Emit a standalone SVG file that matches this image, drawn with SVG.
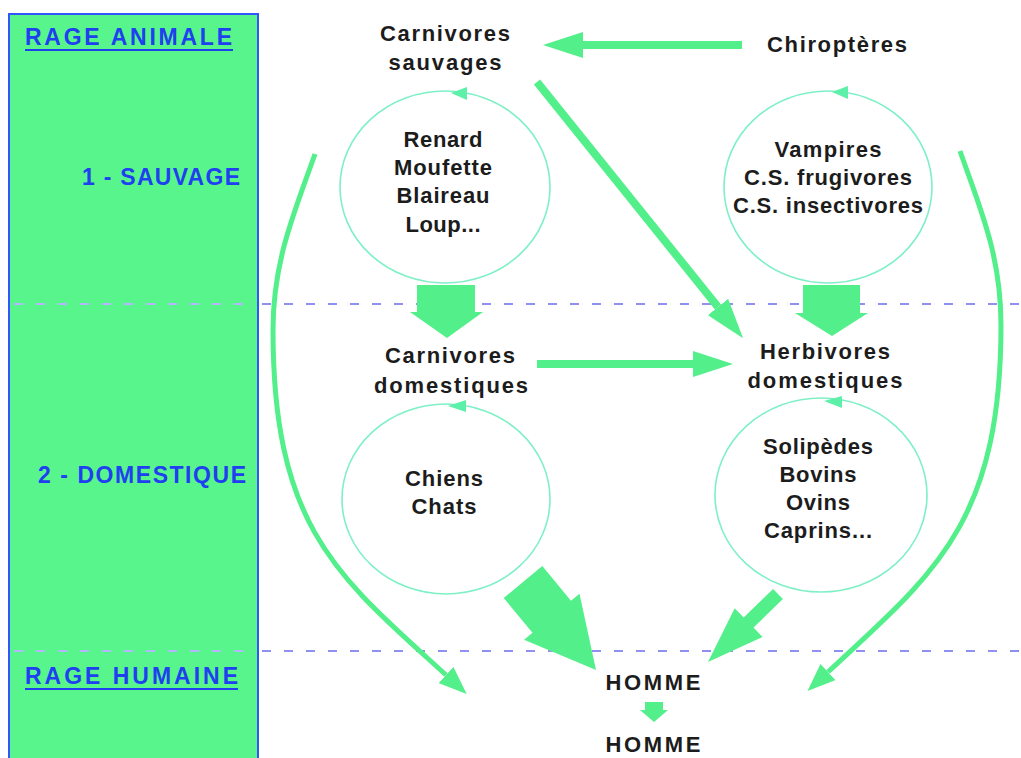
<svg xmlns="http://www.w3.org/2000/svg" width="1021" height="758" viewBox="0 0 1021 758">
  <defs>
    <style>
      .lbl { font-family: "Liberation Sans", Arial, sans-serif; font-weight: bold; font-size: 22px; fill: #1c1c1c; text-anchor: middle; }
      .band { font-family: "Liberation Sans", Arial, sans-serif; font-weight: bold; font-size: 23px; fill: #1f3ff0; }
      .cycle { fill: none; stroke: #7ff0c6; stroke-width: 1.6; }
      .cyc-head { fill: #5cf0a8; }
      .flow { fill: none; stroke: #52ef8a; stroke-width: 8; }
      .curve { fill: none; stroke: #52ef8a; stroke-width: 5; }
      .block { fill: #52ef8a; }
      .dash-in { stroke: #b4b6ff; stroke-width: 2; stroke-dasharray: 9 13; }
      .dash-out { stroke: #6c6cee; stroke-width: 1.6; stroke-dasharray: 9 13; }
    </style>
    <marker id="head-lg" markerUnits="userSpaceOnUse" viewBox="0 0 40 26" markerWidth="40" markerHeight="26" refX="0" refY="13" orient="auto">
      <path d="M0,0 L40,13 L0,26 z" fill="#52ef8a"/>
    </marker>
    <marker id="head-sm" markerUnits="userSpaceOnUse" viewBox="0 0 28 22" markerWidth="28" markerHeight="22" refX="0" refY="11" orient="auto">
      <path d="M0,0 L28,11 L0,22 z" fill="#52ef8a"/>
    </marker>
  </defs>

  <rect width="1021" height="758" fill="#ffffff"/>

  <!-- side panel with the level names -->
  <g id="panel">
    <rect x="9" y="14" width="249" height="760" fill="#57f58c" stroke="#3355ff" stroke-width="2"/>
    <text class="band" x="25" y="45" textLength="207" lengthAdjust="spacing">RAGE ANIMALE</text>
    <line x1="25" y1="50" x2="233" y2="50" stroke="#1f3ff0" stroke-width="2"/>
    <text class="band" x="82" y="185" textLength="158" lengthAdjust="spacing">1 - SAUVAGE</text>
    <text class="band" x="38" y="483" textLength="208" lengthAdjust="spacing">2 - DOMESTIQUE</text>
    <text class="band" x="25" y="684" textLength="213" lengthAdjust="spacing">RAGE HUMAINE</text>
    <line x1="25" y1="689" x2="238" y2="689" stroke="#1f3ff0" stroke-width="2"/>
  </g>

  <!-- level separators -->
  <g id="separators">
    <line class="dash-in" x1="14" y1="304" x2="256" y2="304"/>
    <line class="dash-out" x1="262" y1="304" x2="1021" y2="304"/>
    <line class="dash-in" x1="14" y1="651" x2="256" y2="651"/>
    <line class="dash-out" x1="262" y1="651" x2="1021" y2="651"/>
  </g>

  <g id="carnivores-sauvages">
    <ellipse class="cycle" cx="445" cy="187" rx="105" ry="96"/>
    <polygon class="cyc-head" points="451,93 467,87 467,100"/>
    <text class="lbl" x="445" y="41" textLength="130" lengthAdjust="spacing">Carnivores</text>
    <text class="lbl" x="445" y="70" textLength="113" lengthAdjust="spacing">sauvages</text>
    <text class="lbl" x="443" y="147" textLength="79" lengthAdjust="spacing">Renard</text>
    <text class="lbl" x="443" y="175" textLength="98" lengthAdjust="spacing">Moufette</text>
    <text class="lbl" x="443" y="203" textLength="93" lengthAdjust="spacing">Blaireau</text>
    <text class="lbl" x="443" y="232" textLength="75" lengthAdjust="spacing">Loup...</text>
  </g>

  <g id="chiropteres">
    <ellipse class="cycle" cx="828" cy="187" rx="104" ry="96"/>
    <polygon class="cyc-head" points="832,92 848,86 848,99"/>
    <text class="lbl" x="837" y="52" textLength="140" lengthAdjust="spacing">Chiroptères</text>
    <text class="lbl" x="828" y="157" textLength="107" lengthAdjust="spacing">Vampires</text>
    <text class="lbl" x="828" y="185" textLength="168" lengthAdjust="spacing">C.S. frugivores</text>
    <text class="lbl" x="828" y="213" textLength="190" lengthAdjust="spacing">C.S. insectivores</text>
  </g>

  <g id="carnivores-domestiques">
    <ellipse class="cycle" cx="446" cy="499" rx="104" ry="95"/>
    <polygon class="cyc-head" points="448,406 466,400 466,412"/>
    <text class="lbl" x="450" y="363" textLength="130" lengthAdjust="spacing">Carnivores</text>
    <text class="lbl" x="451" y="393" textLength="154" lengthAdjust="spacing">domestiques</text>
    <text class="lbl" x="444" y="486" textLength="78" lengthAdjust="spacing">Chiens</text>
    <text class="lbl" x="444" y="514" textLength="65" lengthAdjust="spacing">Chats</text>
  </g>

  <g id="herbivores-domestiques">
    <ellipse class="cycle" cx="821" cy="495" rx="106" ry="97"/>
    <polygon class="cyc-head" points="824,401 842,396 842,408"/>
    <text class="lbl" x="825" y="359" textLength="130" lengthAdjust="spacing">Herbivores</text>
    <text class="lbl" x="825" y="388" textLength="155" lengthAdjust="spacing">domestiques</text>
    <text class="lbl" x="818" y="454" textLength="110" lengthAdjust="spacing">Solipèdes</text>
    <text class="lbl" x="818" y="482" textLength="77" lengthAdjust="spacing">Bovins</text>
    <text class="lbl" x="818" y="510" textLength="64" lengthAdjust="spacing">Ovins</text>
    <text class="lbl" x="818" y="538" textLength="108" lengthAdjust="spacing">Caprins...</text>
  </g>

  <g id="homme">
    <text class="lbl" x="653" y="690" textLength="95" lengthAdjust="spacing">HOMME</text>
    <text class="lbl" x="653" y="752" textLength="95" lengthAdjust="spacing">HOMME</text>
  </g>

  <g id="connectors">
    <!-- straight transmissions -->
    <line class="flow" x1="742" y1="45" x2="583" y2="45" marker-end="url(#head-lg)"/>
    <line class="flow" x1="537" y1="82" x2="718" y2="307" marker-end="url(#head-lg)"/>
    <line class="flow" x1="537" y1="364" x2="693" y2="364" marker-end="url(#head-lg)"/>
    <!-- wild to human, wild bats to human -->
    <path class="curve" d="M315,154 C295,211 273,260 273,330 C273,530 340,578 446,675" marker-end="url(#head-sm)"/>
    <path class="curve" d="M960,151 C980,208 1001,255 1001,325 C1001,525 932,575 828,672" marker-end="url(#head-sm)"/>
    <!-- block arrows -->
    <polygon class="block" points="417,285 475,285 475,312 483,312 447,338 410,312 417,312"/>
    <polygon class="block" points="803,285 860,285 860,313 868,313 832,336 795,313 803,313"/>
    <polygon class="block" points="503.7,598 542.3,566 571,600.7 579.5,593.7 596,670 524.1,639.7 532.5,632.7"/>
    <polygon class="block" points="773.1,589 782.9,599 753.5,627.6 762.5,636.9 708,662 734.7,608.3 743.7,617.6"/>
    <polygon class="block" points="645,702 663,702 663,710 668,710 654,722 640,710 645,710"/>
  </g>
</svg>
